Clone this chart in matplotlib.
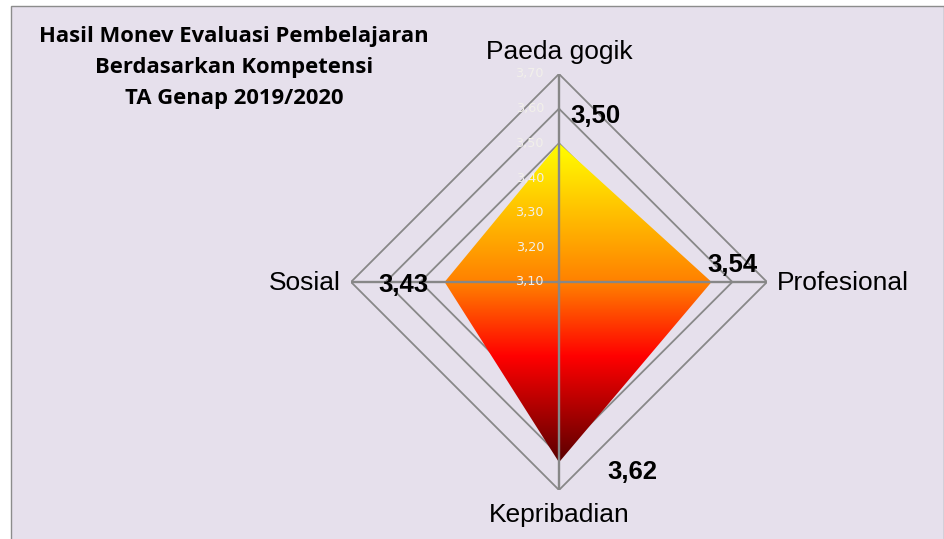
import numpy as np
import matplotlib.pyplot as plt
from matplotlib.colors import LinearSegmentedColormap
from matplotlib.patches import Rectangle

# data
categories = ['Paeda gogik', 'Profesional', 'Kepribadian', 'Sosial']
values = [3.50, 3.54, 3.62, 3.43]
value_labels = ['3,50', '3,54', '3,62', '3,43']
r_ticks = [3.10, 3.20, 3.30, 3.40, 3.50, 3.60, 3.70]
r_tick_labels = ['3,10', '3,20', '3,30', '3,40', '3,50', '3,60', '3,70']
title_lines = ['Hasil Monev Evaluasi Pembelajaran',
               'Berdasarkan Kompetensi',
               'TA Genap 2019/2020']

# layout (pixels)
W, H = 945, 539
cx, cy, R = 559, 282, 208
cat_offsets = [(0, 15, 'center'), (10, -8, 'left'), (0, -32, 'center'), (-10, -8, 'right')]
val_offsets = [(36, 20), (21, 10), (73, -17), (-41, -10)]

fig = plt.figure(figsize=(W / 100, H / 100), dpi=100)
fig.patch.set_facecolor('white')

# background panel + title
bg = fig.add_axes([0, 0, 1, 1], zorder=0)
bg.set_xlim(0, W)
bg.set_ylim(H, 0)
bg.axis('off')
bg.add_patch(Rectangle((10.5, 5.5), 933, 545, facecolor='#E6E0EC',
                       edgecolor='#8C8C8C', lw=1.0))
for i, line in enumerate(title_lines):
    bg.text(234, 42 + 31 * i, line, ha='center', va='baseline',
            fontsize=15.8, fontweight='bold', family='Open Sans', color='black')

pos = [(cx - R) / W, (H - cy - R) / H, 2 * R / W, 2 * R / H]
theta = np.arange(len(categories)) * 2 * np.pi / len(categories)
theta_c = np.append(theta, theta[0])
vals_c = np.append(values, values[0])


def setup_polar(a):
    a.set_theta_zero_location('N')
    a.set_theta_direction(-1)
    a.set_xlim(0, 2 * np.pi)
    a.set_ylim(r_ticks[0], r_ticks[-1])
    a.patch.set_alpha(0)
    a.spines['polar'].set_visible(False)
    a.grid(False)
    a.set_xticks([])
    a.set_yticks([])


# diamond gridlines (below fill)
gax = fig.add_axes(pos, projection='polar', zorder=1)
setup_polar(gax)
for lvl in r_ticks[1:]:
    gax.plot(theta_c, [lvl] * len(theta_c), color='#888888', lw=1.3)

# main axes: polygon outline, spokes, labels
ax = fig.add_axes(pos, projection='polar', zorder=3)
setup_polar(ax)
poly = ax.fill(theta_c, vals_c, facecolor='none', edgecolor='none')[0]

for t in theta:
    ax.plot([t, t], [r_ticks[0], r_ticks[-1]], color='#878787', lw=1.7)

for lvl, lab in zip(r_ticks, r_tick_labels):
    ax.annotate(lab, (0, lvl), xytext=(-15, 0), textcoords='offset pixels',
                ha='right', va='center', fontsize=9.2, color='#F2F0EA',
                annotation_clip=False)

for t, name, (dx, dy, ha) in zip(theta, categories, cat_offsets):
    ax.annotate(name, (t, r_ticks[-1]), xytext=(dx, dy), textcoords='offset pixels',
                ha=ha, va='baseline', fontsize=19, family='Liberation Sans',
                annotation_clip=False)

for t, v, lab, (dx, dy) in zip(theta, values, value_labels, val_offsets):
    ax.annotate(lab, (t, v), xytext=(dx, dy), textcoords='offset pixels',
                ha='center', va='baseline', fontsize=18.5, fontweight='bold',
                family='Liberation Sans', annotation_clip=False)

# gradient fill, clipped to the data polygon
iax = fig.add_axes([0, 0, 1, 1], zorder=2)
iax.set_xlim(0, W)
iax.set_ylim(H, 0)
iax.axis('off')
iax.patch.set_alpha(0)
disp = ax.transData.transform(np.column_stack([theta_c, vals_c]))
pix = iax.transData.inverted().transform(disp)
x0, x1 = pix[:, 0].min(), pix[:, 0].max()
y0, y1 = pix[:, 1].min(), pix[:, 1].max()
cmap = LinearSegmentedColormap.from_list(
    'fill', [(0, '#FFFF00'), (0.44, '#FF7F00'), (0.67, '#FF0000'), (1, '#5A0000')])
grad = np.linspace(0, 1, 256).reshape(-1, 1)
im = iax.imshow(grad, cmap=cmap, extent=(x0, x1, y1, y0), aspect='auto',
                origin='upper', interpolation='bilinear')
im.set_clip_path(poly)
iax.set_xlim(0, W)
iax.set_ylim(H, 0)

fig.savefig('out.png', dpi=100)
